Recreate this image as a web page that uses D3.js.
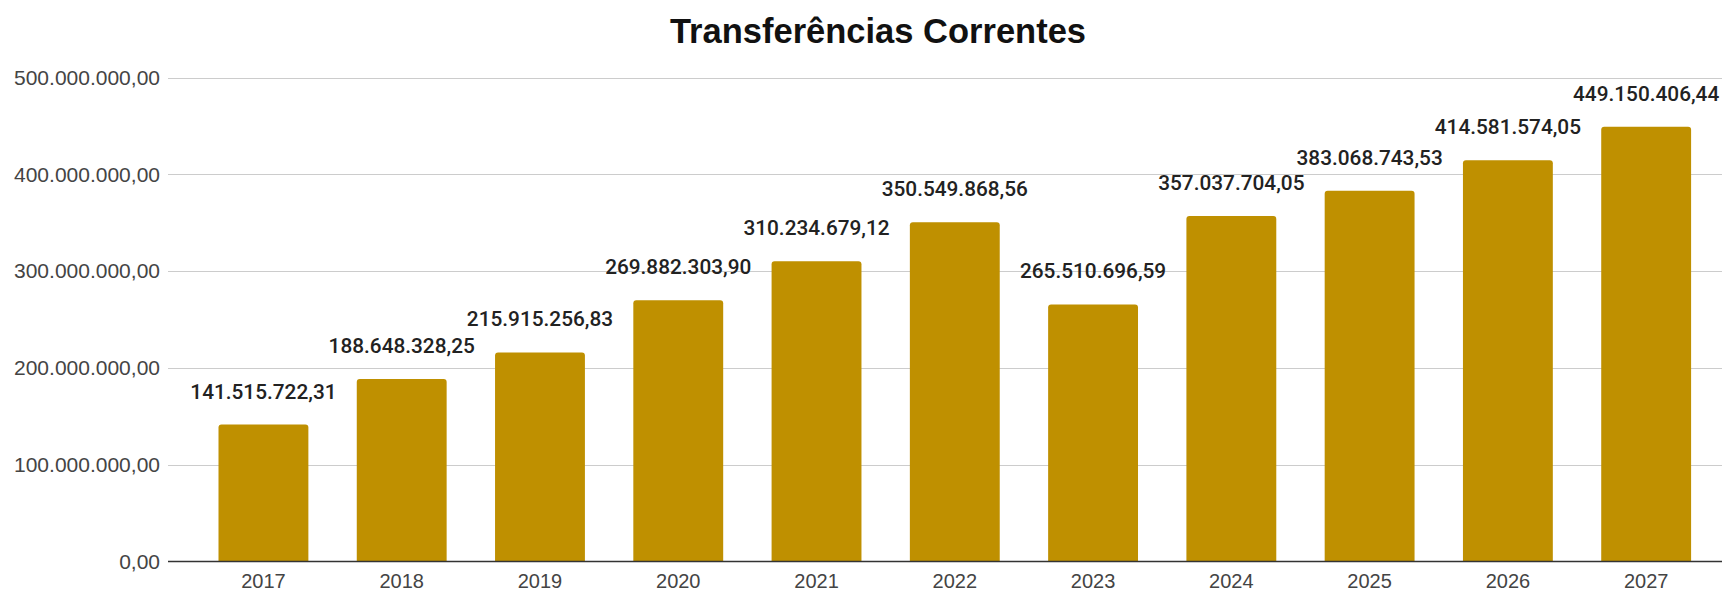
<!DOCTYPE html>
<html>
<head>
<meta charset="utf-8">
<script src="https://cdn.jsdelivr.net/npm/d3@7/dist/d3.min.js"></script>
<style>
  html, body { margin: 0; padding: 0; background: #ffffff; }
  svg { display: block; }
</style>
</head>
<body>
<svg id="chart" width="1722" height="591"></svg>
<script>
const title = "Transferências Correntes";
const categories = ["2017", "2018", "2019", "2020", "2021", "2022", "2023", "2024", "2025", "2026", "2027"];
const values = [141515722.31, 188648328.25, 215915256.83, 269882303.90, 310234679.12, 350549868.56, 265510696.59, 357037704.05, 383068743.53, 414581574.05, 449150406.44];
const valueLabels = ["141.515.722,31", "188.648.328,25", "215.915.256,83", "269.882.303,90", "310.234.679,12", "350.549.868,56", "265.510.696,59", "357.037.704,05", "383.068.743,53", "414.581.574,05", "449.150.406,44"];
const yTicks = [0, 100000000, 200000000, 300000000, 400000000, 500000000];
const yTickLabels = ["0,00", "100.000.000,00", "200.000.000,00", "300.000.000,00", "400.000.000,00", "500.000.000,00"];

const svg = d3.select("#chart");
const plotLeft = 168, plotRight = 1722;
const y0 = 561.5, yTop = 77.5;

const x = d3.scaleBand()
  .domain(categories)
  .range([194.3, 1715.3])
  .paddingInner(0.35)
  .paddingOuter(0.175);

const y = d3.scaleLinear()
  .domain([0, 500000000])
  .range([y0, yTop]);

// Title
svg.append("text")
  .attr("x", 878)
  .attr("y", 43)
  .attr("text-anchor", "middle")
  .attr("font-family", "'Liberation Sans', Arial, sans-serif")
  .attr("font-weight", "bold")
  .attr("font-size", 34.5)
  .attr("fill", "#111")
  .text(title);

// Gridlines
svg.append("g").selectAll("line")
  .data(yTicks.filter(d => d !== 0))
  .join("line")
  .attr("x1", plotLeft)
  .attr("x2", plotRight)
  .attr("y1", d => Math.round(y(d)) + 0.5)
  .attr("y2", d => Math.round(y(d)) + 0.5)
  .attr("stroke", "#cccccc")
  .attr("stroke-width", 1.2);

// Y axis labels
const yAxis = d3.axisLeft(y)
  .tickValues(yTicks)
  .tickFormat((d, i) => yTickLabels[i])
  .tickSize(0)
  .tickPadding(8);
const gy = svg.append("g")
  .attr("transform", `translate(${plotLeft},0)`)
  .call(yAxis);
gy.select(".domain").remove();
gy.selectAll("text")
  .attr("font-family", "'Liberation Sans', Arial, sans-serif")
  .attr("font-size", 21)
  .attr("fill", "#444");

// Bars with rounded top corners
const r = 3;
function barPath(d) {
  const bx = x(d.cat), bw = x.bandwidth();
  const by = y(d.val), bb = y(0);
  return `M${bx},${bb} L${bx},${by + r} Q${bx},${by} ${bx + r},${by} L${bx + bw - r},${by} Q${bx + bw},${by} ${bx + bw},${by + r} L${bx + bw},${bb} Z`;
}
const data = categories.map((c, i) => ({ cat: c, val: values[i], label: valueLabels[i] }));
svg.append("g").selectAll("path")
  .data(data)
  .join("path")
  .attr("d", barPath)
  .attr("fill", "#bf9000");

// Value labels
svg.append("g").selectAll("text")
  .data(data)
  .join("text")
  .attr("x", d => x(d.cat) + x.bandwidth() / 2)
  .attr("y", d => y(d.val) - 26)
  .attr("text-anchor", "middle")
  .attr("font-family", "Roboto, 'Liberation Sans', sans-serif")
  .attr("font-weight", 500)
  .attr("font-size", 20.8)
  .attr("fill", "#222")
  .text(d => d.label);

// X axis
const xAxis = d3.axisBottom(x).tickSize(0).tickPadding(12);
const gx = svg.append("g")
  .attr("transform", `translate(0,${y0})`)
  .call(xAxis);
gx.select(".domain").remove();
gx.selectAll("text")
  .attr("font-family", "'Liberation Sans', Arial, sans-serif")
  .attr("font-size", 20)
  .attr("fill", "#444");
svg.append("line")
  .attr("x1", plotLeft)
  .attr("x2", plotRight)
  .attr("y1", y0)
  .attr("y2", y0)
  .attr("stroke", "#333")
  .attr("stroke-width", 1.5);
</script>
</body>
</html>
